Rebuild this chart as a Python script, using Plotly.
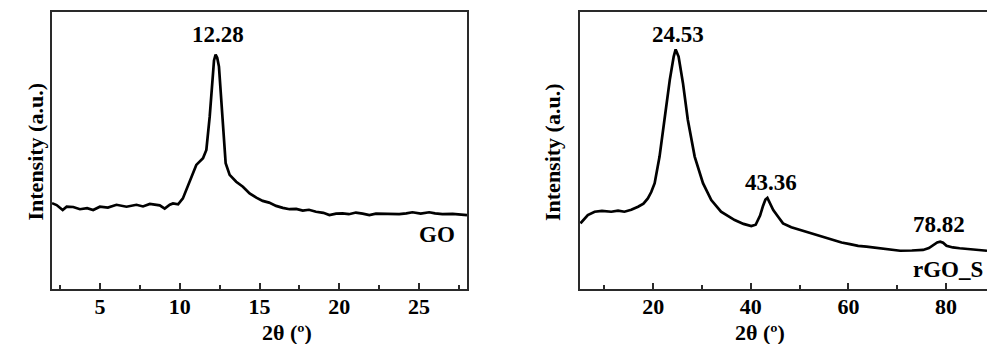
import plotly.graph_objects as go

# ---- data ----
go_x = [2.0, 2.29, 2.67, 2.92, 3.33, 3.75, 4.2, 4.58, 5.0, 5.5, 6.04, 6.67, 7.29, 7.7, 8.13, 8.75, 9.06, 9.38, 9.58,
        9.9, 10.2, 10.42, 10.73, 11.04, 11.46, 11.67, 11.88, 12.04, 12.15, 12.25, 12.35, 12.46, 12.67, 12.88, 13.13,
        13.54, 13.96, 14.38, 14.8, 15.2, 15.6, 16.04, 16.46, 16.88, 17.3, 17.71, 18.1, 18.54, 19.0, 19.38, 19.8,
        20.2, 20.6, 21.04, 21.46, 21.88, 22.3, 22.7, 23.2, 23.75, 24.2, 24.58, 25.1, 25.63, 26.0, 26.46, 27.1, 27.7, 28.0]
go_y = [31.0, 30.3, 28.5, 29.7, 29.6, 28.8, 29.2, 28.5, 29.7, 29.4, 30.4, 29.7, 30.4, 29.8, 30.7, 30.2, 29.0, 30.4, 30.9,
        30.6, 32.7, 35.7, 40.5, 44.8, 47.2, 50.2, 62.2, 76.6, 82.5, 84.6, 83.5, 80.3, 63.4, 45.4, 41.2,
        38.7, 36.9, 34.5, 33.0, 31.8, 31.2, 30.0, 29.3, 28.8, 28.9, 28.3, 28.6, 27.9, 27.5, 26.7, 27.2,
        27.3, 27.0, 27.6, 27.2, 26.7, 27.2, 27.1, 26.9, 27.0, 27.3, 27.7, 27.2, 27.7, 27.3, 27.0, 27.1, 26.7, 26.7]

rgo_x = [5.1, 6.6, 8.0, 9.5, 11.4, 12.8, 14.1, 15.5, 16.9, 18.0, 18.9, 19.6, 20.3, 21.3, 22.3, 23.4, 24.2, 24.6,
         25.2, 26.1, 27.1, 28.5, 30.2, 31.9, 33.9, 35.2, 36.7, 38.5, 40.1, 41.0, 41.9, 42.5, 43.0, 43.4, 44.0, 44.6,
         45.6, 46.6, 48.3, 50.1, 51.8, 53.5, 55.2, 56.9, 58.6, 60.3, 62.0, 63.7, 65.4, 67.1, 68.8, 70.6, 73.0, 75.3,
         76.5, 77.4, 78.2, 78.8, 79.4, 80.1, 81.4, 82.8, 84.5, 86.3, 88.4]
rgo_y = [23.7, 26.7, 27.9, 28.2, 27.9, 28.3, 27.9, 28.6, 29.7, 30.8, 32.7, 35.0, 38.2, 47.8, 61.0, 75.5, 83.9, 86.5,
         83.9, 74.3, 61.0, 47.8, 38.2, 32.1, 27.9, 26.4, 24.9, 23.5, 22.7, 23.2, 26.5, 30.0, 32.3, 32.9, 30.8, 28.5,
         26.1, 23.7, 22.3, 21.3, 20.5, 19.5, 18.7, 17.7, 16.8, 16.2, 15.6, 15.3, 14.9, 14.4, 14.2, 13.8, 13.9, 14.1,
         14.8, 15.9, 16.8, 17.1, 16.7, 15.6, 15.0, 14.7, 14.4, 14.1, 13.8]

go_peaks = [(12.4, 91.7, "12.28")]
rgo_peaks = [(25.0, 91.7, "24.53"), (44.1, 38.4, "43.36"), (78.6, 23.4, "78.82")]

FONT = "Liberation Serif, Times New Roman, serif"
W, H = 987, 344

fig = go.Figure()
fig.add_trace(go.Scatter(x=go_x, y=go_y, mode="lines", line=dict(color="black", width=2.7),
                         xaxis="x", yaxis="y", showlegend=False))
fig.add_trace(go.Scatter(x=rgo_x, y=rgo_y, mode="lines", line=dict(color="black", width=2.7),
                         xaxis="x2", yaxis="y2", showlegend=False))

ydom = [(H - 289) / H, (H - 12) / H]
axis_common = dict(showline=True, linecolor="#2a2a2a", linewidth=1.8, showgrid=False, zeroline=False,
                   ticks="inside", tickcolor="#2a2a2a", tickwidth=1.5, ticklen=6, ticklabelstandoff=-3,
                   tickfont=dict(family=FONT, size=22, color="black", weight="bold"))

fig.update_layout(
    width=W, height=H, margin=dict(l=0, r=0, t=0, b=0),
    paper_bgcolor="white", plot_bgcolor="white",
    xaxis=dict(domain=[52 / W, 467 / W], range=[2, 28], dtick=5, tick0=0,
               minor=dict(dtick=2.5, tick0=0, ticks="inside", ticklen=4, tickcolor="#2a2a2a", tickwidth=1.5),
               mirror=True, anchor="y", **axis_common),
    yaxis=dict(domain=ydom, range=[0, 100], showticklabels=False, showline=True, linecolor="#2a2a2a",
               linewidth=1.8, mirror=True, ticks="", showgrid=False, zeroline=False, anchor="x"),
    xaxis2=dict(domain=[580 / W, 1.0], range=[5, 88.4], dtick=20, tick0=0,
                minor=dict(dtick=10, tick0=0, ticks="inside", ticklen=4, tickcolor="#2a2a2a", tickwidth=1.5),
                mirror=True, anchor="y2", **axis_common),
    yaxis2=dict(domain=ydom, range=[0, 100], showticklabels=False, showline=True, linecolor="#2a2a2a",
                linewidth=1.8, mirror=False, ticks="", showgrid=False, zeroline=False, anchor="x2"),
)

LBL = dict(family=FONT, size=23, color="black", weight="bold")
ann = []
for x, y, t in go_peaks:
    ann.append(dict(x=x, y=y, xref="x", yref="y", text=t, showarrow=False, font=LBL))
for x, y, t in rgo_peaks:
    ann.append(dict(x=x, y=y, xref="x2", yref="y2", text=t, showarrow=False, font=LBL))
ann.append(dict(x=26.1, y=19.5, xref="x", yref="y", text="GO", showarrow=False, font=LBL))
ann.append(dict(x=911 / W, y=7.1, xref="paper", yref="y2", text="rGO_S", showarrow=False, xanchor="left",
                font=LBL))
# axis titles
TTL = dict(family=FONT, size=22, color="black", weight="bold")
ann.append(dict(x=20 / W, y=(H - 152) / H, xref="paper", yref="paper", text="Intensity (a.u.)", textangle=-90,
                showarrow=False, font=TTL))
ann.append(dict(x=552 / W, y=(H - 152) / H, xref="paper", yref="paper", text="Intensity (a.u.)", textangle=-90,
                showarrow=False, font=TTL))
ann.append(dict(x=259.5 / W, y=(H - 332) / H, xref="paper", yref="paper", text="2θ (º)", yanchor="middle",
                showarrow=False, font=TTL))
ann.append(dict(x=787 / W, y=(H - 332) / H, xref="paper", yref="paper", text="2θ (º)", yanchor="middle",
                showarrow=False, font=TTL))
fig.update_layout(annotations=ann)

fig.write_html("out.html")
